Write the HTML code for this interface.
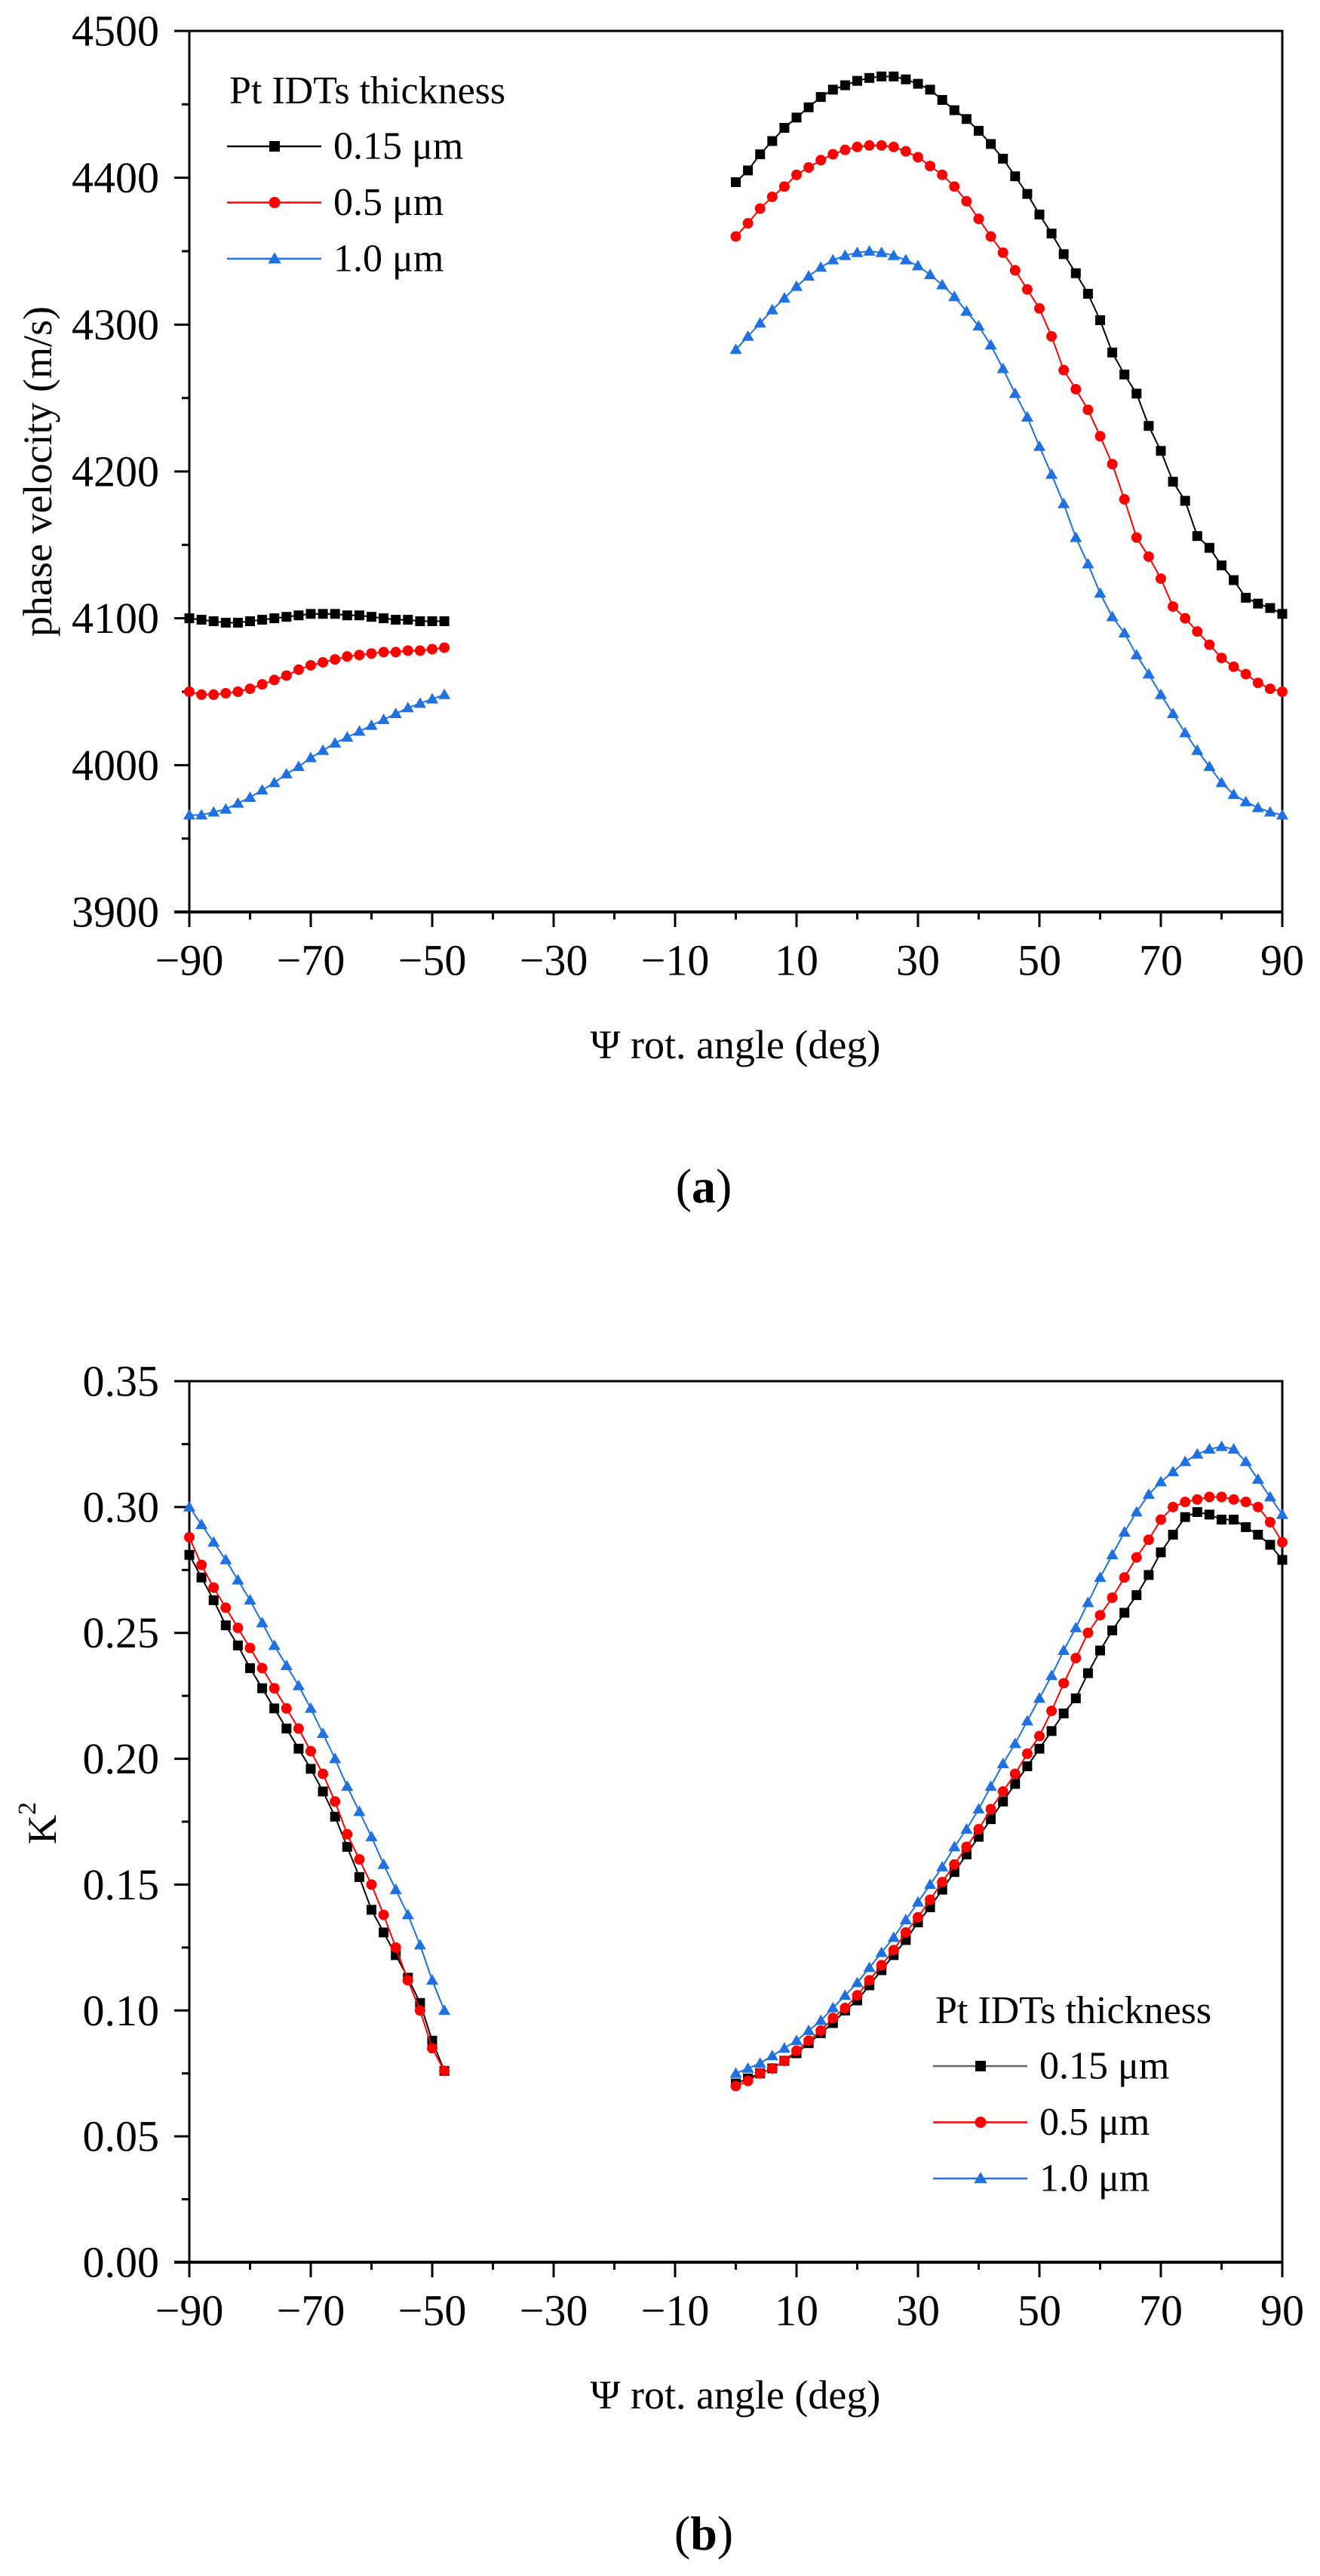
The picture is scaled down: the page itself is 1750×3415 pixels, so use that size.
<!DOCTYPE html>
<html><head><meta charset="utf-8"><style>
html,body{margin:0;padding:0;background:#fff}
svg{display:block}
text{font-family:"Liberation Serif",serif;fill:#000}
</style></head><body>
<svg id="fig" width="1750" height="3415" viewBox="0 0 1750 3415" xmlns="http://www.w3.org/2000/svg">
<g id="chartA"></g>
<g id="chartB"></g>
<text x="933" y="1572" font-size="64" text-anchor="middle" dominant-baseline="central">(<tspan font-weight="bold">a</tspan>)</text>
<text x="933" y="3358" font-size="64" text-anchor="middle" dominant-baseline="central">(<tspan font-weight="bold">b</tspan>)</text>
</svg>
<script>
// ---- shared x data ----
const xLeft = [-90,-88,-86,-84,-82,-80,-78,-76,-74,-72,-70,-68,-66,-64,-62,-60,-58,-56,-54,-52,-50,-48];
const xRight = [0,2,4,6,8,10,12,14,16,18,20,22,24,26,28,30,32,34,36,38,40,42,44,46,48,50,52,54,56,58,60,62,64,66,68,70,72,74,76,78,80,82,84,86,88,90];
const xTicks = [-90,-70,-50,-30,-10,10,30,50,70,90];
const xTickLabels = ["\u221290","\u221270","\u221250","\u221230","\u221210","10","30","50","70","90"];
const seriesNames = ["0.15 \u03bcm","0.5 \u03bcm","1.0 \u03bcm"];

// ---- chart A: phase velocity ----
const vBlackL = [4100,4099,4098,4097,4097,4098,4099,4100,4101,4102,4103,4103,4103,4102,4102,4101,4100,4099,4099,4098,4098,4098];
const vBlackR = [4397,4405,4416,4425,4434,4441,4448,4455,4460,4463,4466,4468,4469,4469,4467,4464,4460,4453,4446,4440,4432,4423,4413,4401,4389,4375,4362,4348,4335,4321,4303,4281,4266,4253,4231,4214,4193,4180,4156,4148,4136,4126,4114,4110,4107,4103];
const vRedL = [4050,4048,4048,4049,4050,4052,4055,4058,4061,4065,4068,4070,4072,4074,4075,4076,4077,4077,4078,4078,4079,4080];
const vRedR = [4360,4369,4379,4387,4394,4402,4407,4412,4416,4419,4421,4422,4422,4421,4418,4414,4408,4402,4394,4384,4372,4360,4349,4337,4324,4311,4292,4269,4256,4242,4224,4205,4181,4155,4142,4127,4108,4100,4091,4082,4073,4067,4062,4056,4052,4050];
const vBlueL = [3966,3966,3968,3970,3974,3978,3983,3988,3994,3999,4005,4010,4015,4019,4023,4027,4031,4035,4039,4042,4045,4048];
const vBlueR = [4283,4292,4301,4310,4318,4326,4333,4339,4344,4347,4349,4350,4349,4347,4344,4340,4334,4327,4319,4309,4299,4286,4270,4253,4237,4217,4198,4178,4155,4137,4117,4101,4090,4075,4062,4048,4035,4022,4010,3999,3988,3980,3975,3971,3968,3966];
const aYTicks = [3900,4000,4100,4200,4300,4400,4500];
const aYTickLabels = ["3900","4000","4100","4200","4300","4400","4500"];

// ---- chart B: K^2 ----
const kBlackL = [0.281,0.272,0.263,0.253,0.245,0.236,0.228,0.220,0.212,0.204,0.196,0.187,0.177,0.165,0.153,0.140,0.131,0.122,0.113,0.103,0.088,0.076];
const kBlackR = [0.071,0.073,0.075,0.077,0.080,0.083,0.087,0.091,0.095,0.100,0.104,0.110,0.116,0.122,0.128,0.135,0.141,0.148,0.155,0.162,0.169,0.176,0.183,0.190,0.197,0.204,0.211,0.218,0.224,0.234,0.243,0.251,0.258,0.265,0.273,0.282,0.289,0.296,0.298,0.297,0.295,0.295,0.292,0.289,0.285,0.279];
const kRedL = [0.288,0.277,0.268,0.260,0.252,0.244,0.236,0.228,0.220,0.212,0.203,0.194,0.183,0.170,0.160,0.150,0.138,0.125,0.112,0.100,0.085,0.076];
const kRedR = [0.070,0.072,0.075,0.077,0.080,0.084,0.088,0.092,0.097,0.101,0.106,0.112,0.118,0.124,0.131,0.137,0.144,0.151,0.158,0.165,0.172,0.180,0.187,0.194,0.202,0.209,0.219,0.230,0.240,0.250,0.257,0.264,0.272,0.280,0.287,0.295,0.300,0.302,0.303,0.304,0.304,0.303,0.302,0.300,0.294,0.286];
const kBlueL = [0.300,0.293,0.286,0.279,0.271,0.263,0.254,0.245,0.237,0.229,0.220,0.210,0.200,0.189,0.179,0.169,0.158,0.148,0.138,0.126,0.112,0.100];
const kBlueR = [0.075,0.077,0.079,0.082,0.085,0.088,0.092,0.096,0.101,0.106,0.111,0.117,0.123,0.129,0.136,0.143,0.150,0.157,0.165,0.172,0.180,0.189,0.198,0.206,0.215,0.224,0.233,0.243,0.252,0.262,0.272,0.281,0.290,0.298,0.305,0.310,0.314,0.318,0.321,0.323,0.324,0.323,0.318,0.311,0.304,0.297];
const bYTicks = [0,0.05,0.10,0.15,0.20,0.25,0.30,0.35];
const bYTickLabels = ["0.00","0.05","0.10","0.15","0.20","0.25","0.30","0.35"];

const NS = "http://www.w3.org/2000/svg";
const COLORS = ["#000000","#ff0000","#1f70e0"];
const SHAPES = ["square","circle","triangle"];

function mk(tag, attrs, parent){
  const e = document.createElementNS(NS, tag);
  for (const k in attrs) e.setAttribute(k, attrs[k]);
  if (parent) parent.appendChild(e);
  return e;
}
function marker(g, shape, cx, cy, color, s){
  let m;
  if (shape === "square") m = mk("rect", {x:cx-s/2, y:cy-s/2, width:s, height:s, fill:color}, g);
  else if (shape === "circle") m = mk("circle", {cx:cx, cy:cy, r:s/2+0.5, fill:color}, g);
  else m = mk("polygon", {points:(cx)+","+(cy-s*0.62)+" "+(cx-s*0.62)+","+(cy+s*0.45)+" "+(cx+s*0.62)+","+(cy+s*0.45), fill:color}, g);
  return m;
}

function drawChart(g, cfg){
  const L=251, R=1700, T=cfg.top, B=cfg.bottom;
  const xs = v => L + (v+90)/180*(R-L);
  const ys = v => B - (v-cfg.ymin)/(cfg.ymax-cfg.ymin)*(B-T);
  // frame
  const frame = mk("rect", {x:L, y:T, width:R-L, height:B-T, fill:"none", stroke:"#000", "stroke-width":3}, g);
  
  
  mk("line",{x1:L-20,y1:B,x2:R,y2:B,stroke:"#000","stroke-width":4},g);
  // x ticks
  for (let v=-90; v<=90; v+=10){
    const major = ((v+90)%20===0);
    mk("line",{x1:xs(v),y1:B,x2:xs(v),y2:B+(major?20:10),stroke:"#000","stroke-width":3},g);
  }
  xTicks.forEach((v,i)=>{
    const t = mk("text",{x:xs(v), y:B+64, "font-size":58, "text-anchor":"middle", "dominant-baseline":"central"}, g);
    t.textContent = xTickLabels[i];
    
    
  });
  // y ticks
  for (let i=0;i<cfg.yticks.length;i++){
    const v = cfg.yticks[i];
    mk("line",{x1:L-20,y1:ys(v),x2:L,y2:ys(v),stroke:"#000","stroke-width":3},g);
    if (i<cfg.yticks.length-1){
      const mv=(v+cfg.yticks[i+1])/2;
      mk("line",{x1:L-10,y1:ys(mv),x2:L,y2:ys(mv),stroke:"#000","stroke-width":3},g);
    }
    const t = mk("text",{x:211, y:ys(v), "font-size":58, "text-anchor":"end", "dominant-baseline":"central"}, g);
    t.textContent = cfg.ylabels[i];
    
    
  }
  // titles
  const xt = mk("text",{x:975, y:B+176, "font-size":54, "text-anchor":"middle", "dominant-baseline":"central"}, g);
  xt.textContent = "\u03a8 rot. angle (deg)";
  
  
  const yt = mk("text",{x:0, y:0, "font-size":54, "text-anchor":"middle", "dominant-baseline":"central", transform:"translate("+cfg.ytx+","+cfg.yty+") rotate(-90)"}, g);
  if (cfg.ysup){ yt.textContent = "K"; const sp = mk("tspan",{dy:-20,"font-size":34},yt); sp.textContent="2"; }
  else yt.textContent = cfg.ytitle;
  
  
  // series
  cfg.series.forEach((s,si)=>{
    const sg = mk("g",{},g);
    
    
    [[xLeft,s[0]],[xRight,s[1]]].forEach(seg=>{
      const pts = seg[0].map((x,i)=>xs(x)+","+ys(seg[1][i])).join(" ");
      mk("polyline",{points:pts, fill:"none", stroke:COLORS[si], "stroke-width":2}, sg);
      seg[0].forEach((x,i)=>{
        const m = marker(sg, SHAPES[si], xs(x), ys(seg[1][i]), COLORS[si], 13);
        
        
      });
    });
  });
  // legend
  const lg = mk("g",{},g);
  
  
  const lt = mk("text",{x:cfg.lx, y:cfg.ly, "font-size":52}, lg);
  lt.textContent = "Pt IDTs thickness";
  
  
  seriesNames.forEach((n,i)=>{
    const ry = cfg.ly + 57 + i*74.5;
    const e = mk("g",{},lg);
    
    
    mk("line",{x1:cfg.lx-3,y1:ry,x2:cfg.lx+122,y2:ry,stroke:(i===0&&cfg.greyLine)?"#666":COLORS[i],"stroke-width":2.5},e);
    marker(e, SHAPES[i], cfg.lx+60, ry, COLORS[i], 14);
    const tx = mk("text",{x:cfg.lx+138, y:ry, "font-size":52, "dominant-baseline":"central"}, e);
    tx.textContent = n;
  });
}

drawChart(document.getElementById("chartA"), {
  top:41, bottom:1209, ymin:3900, ymax:4500, yticks:aYTicks, ylabels:aYTickLabels,
  ytitle:"phase velocity (m/s)", ytx:50, yty:625,
  series:[[vBlackL,vBlackR],[vRedL,vRedR],[vBlueL,vBlueR]],
  lx:304, ly:137
});
drawChart(document.getElementById("chartB"), {
  top:1831, bottom:2999, ymin:0, ymax:0.35, yticks:bYTicks, ylabels:bYTickLabels,
  ysup:true, ytx:56, yty:2417,
  series:[[kBlackL,kBlackR],[kRedL,kRedR],[kBlueL,kBlueR]],
  lx:1240, ly:2682, greyLine:true
});
</script>
</body></html>
